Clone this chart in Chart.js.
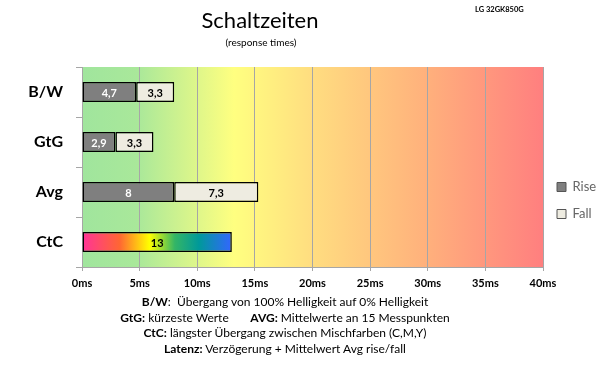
<!DOCTYPE html>
<html>
<head>
<meta charset="utf-8">
<script src="https://cdn.jsdelivr.net/npm/chart.js@4"></script>
<style>
  body { margin: 0; background: #fff; }
  #wrap { position: relative; width: 600px; height: 365px; font-family: Lato, sans-serif; color: #000; }
  #graph { position: absolute; left: 0; top: 0; }
  .txt { position: absolute; white-space: pre; }
  #title { left: 0; width: 520px; top: 6px; text-align: center; font-size: 22px; }
  #subtitle { left: 0; width: 522px; top: 36px; text-align: center; font-size: 10px; }
  #brand { left: 475px; top: 5px; font-size: 7.5px; font-weight: bold; }
  #notes { left: 0; width: 570px; top: 294px; text-align: center; font-size: 12px; line-height: 15.6px; }
  #notes b { font-weight: bold; }
</style>
</head>
<body>
<div id="wrap">
  <canvas id="graph" width="600" height="365"></canvas>
  <div class="txt" id="title">Schaltzeiten</div>
  <div class="txt" id="subtitle">(response times)</div>
  <div class="txt" id="brand">LG 32GK850G</div>
  <div class="txt" id="notes"><b>B/W</b>:  Übergang von 100% Helligkeit auf 0% Helligkeit
<b>GtG:</b> kürzeste Werte       <b>AVG:</b> Mittelwerte an 15 Messpunkten
<b>CtC:</b> längster Übergang zwischen Mischfarben (C,M,Y)
<b>Latenz:</b> Verzögerung + Mittelwert Avg rise/fall</div>
</div>
<script>
const categories = ["B/W", "GtG", "Avg", "CtC"];
const riseValues = [4.7, 2.9, 8, null];
const fallValues = [3.3, 3.3, 7.3, null];
const ctcValues = [null, null, null, 13];
const xMax = 40;
const xStep = 5;

const fmt = v => String(v).replace(".", ",");

// zone colouring behind the bars: green (fast) -> yellow -> red (slow)
const zoneBackground = {
  id: "zoneBackground",
  beforeDraw(chart) {
    const { ctx, chartArea: a } = chart;
    const g = ctx.createLinearGradient(a.left, 0, a.right, 0);
    g.addColorStop(0, "#a0e59d");
    g.addColorStop(0.12, "#a9e89a");
    g.addColorStop(0.33, "#ffff80");
    g.addColorStop(0.5, "#ffdd80");
    g.addColorStop(0.75, "#ffb07c");
    g.addColorStop(1, "#ff7f7f");
    ctx.save();
    ctx.fillStyle = g;
    ctx.fillRect(a.left, a.top, a.right - a.left, a.bottom - a.top);
    ctx.restore();
  }
};

// value labels inside the bars
const barLabels = {
  id: "barLabels",
  afterDatasetsDraw(chart) {
    const ctx = chart.ctx;
    ctx.save();
    ctx.font = "bold 11px Lato";
    ctx.textAlign = "center";
    ctx.textBaseline = "middle";
    chart.data.datasets.forEach((ds, i) => {
      const meta = chart.getDatasetMeta(i);
      meta.data.forEach((bar, j) => {
        const v = ds.data[j];
        if (v == null) return;
        const { x, y, base } = bar.getProps(["x", "y", "base"], true);
        ctx.fillStyle = ds.labelColor;
        ctx.fillText(fmt(v), (x + base) / 2, y + 1);
      });
    });
    ctx.restore();
  }
};

function ctcGradient(context) {
  const chart = context.chart;
  if (!chart.chartArea) return "#f39";
  const xs = chart.scales.x;
  const g = chart.ctx.createLinearGradient(xs.getPixelForValue(0), 0, xs.getPixelForValue(13), 0);
  g.addColorStop(0, "#ff3399");
  g.addColorStop(0.25, "#ff6633");
  g.addColorStop(0.45, "#ffff00");
  g.addColorStop(0.62, "#33b566");
  g.addColorStop(0.78, "#00999a");
  g.addColorStop(1, "#3366ff");
  return g;
}

const ctx = document.getElementById("graph").getContext("2d");
const chart = new Chart(ctx, {
  type: "bar",
  data: {
    labels: categories,
    datasets: [
      { label: "Rise", data: riseValues, backgroundColor: "#7f7f7f", labelColor: "#fff" },
      { label: "Fall", data: fallValues, backgroundColor: "#eeece1", labelColor: "#000" },
      { label: "CtC", data: ctcValues, backgroundColor: ctcGradient, labelColor: "#000" }
    ]
  },
  options: {
    indexAxis: "y",
    responsive: false,
    animation: false,
    devicePixelRatio: 1,
    datasets: {
      bar: {
        borderColor: "#000",
        borderWidth: 1.5,
        borderSkipped: false,
        categoryPercentage: 1,
        barPercentage: 0.4
      }
    },
    layout: { padding: { top: 67, bottom: 73, left: 0, right: 0 } },
    scales: {
      x: {
        stacked: true,
        min: 0,
        max: xMax,
        ticks: {
          stepSize: xStep,
          color: "#000",
          font: { family: "Lato", size: 11, weight: "bold" },
          padding: 6,
          callback: v => v + "ms"
        },
        grid: { color: "#a6a6a6", tickLength: 4, lineWidth: 1 },
        border: { color: "#a6a6a6" },
        afterFit: s => { s.height = 25; }
      },
      y: {
        stacked: true,
        ticks: {
          color: "#000",
          font: { family: "Lato", size: 16, weight: "bold" },
          padding: 13
        },
        grid: { drawOnChartArea: false, color: "#a6a6a6", tickLength: 6 },
        border: { color: "#a6a6a6" },
        afterFit: s => { s.width = 82; }
      }
    },
    plugins: {
      legend: {
        position: "right",
        align: "center",
        maxWidth: 57,
        title: { display: true, text: "", font: { size: 10 }, padding: { top: 0, bottom: 30 } },
        labels: {
          boxWidth: 9,
          boxHeight: 9,
          padding: 14,
          color: "#000",
          font: { family: "Lato", size: 13 },
          filter: item => item.text !== "CtC",
          generateLabels: ch => ch.data.datasets.map((ds, i) => ({
            text: ds.label,
            fillStyle: ds.backgroundColor,
            strokeStyle: "#555",
            lineWidth: 1,
            datasetIndex: i,
            hidden: false
          }))
        }
      },
      title: { display: false },
      tooltip: { enabled: false }
    }
  },
  plugins: [zoneBackground, barLabels]
});
</script>
</body>
</html>
